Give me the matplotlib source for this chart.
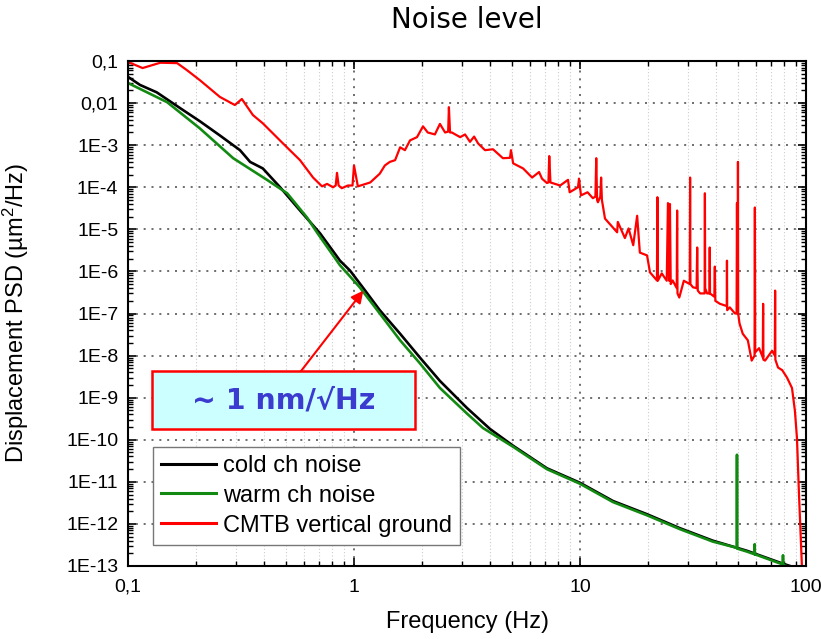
import matplotlib
matplotlib.use("Agg")
import matplotlib.pyplot as plt
from matplotlib.patches import Rectangle
from matplotlib.ticker import LogLocator, NullFormatter

# ---------------- data ----------------
cold_f = [0.1, 0.113, 0.134, 0.170, 0.208, 0.255, 0.313, 0.347, 0.395, 0.471, 0.577,
          0.708, 0.867, 0.96, 1.10, 1.30, 1.60, 1.96, 2.40, 3.16, 4.0, 5.06, 7.14, 10,
          14, 19.8, 27.7, 38.7, 54.8, 76.8, 90]
cold_v = [0.042, 0.027, 0.018, 0.0076, 0.0037, 0.0017, 7.6e-4, 4.0e-4, 2.8e-4, 1.0e-4,
          2.8e-5, 8e-6, 1.8e-6, 1.05e-6, 4.0e-7, 1.2e-7, 3.3e-8, 8.9e-9, 2.5e-9, 5.7e-10,
          1.8e-10, 7.2e-11, 2.1e-11, 9.5e-12, 3.5e-12, 1.7e-12, 7.9e-13, 4e-13, 2.3e-13,
          1.2e-13, 9e-14]

warm_f = [0.1, 0.149, 0.208, 0.292, 0.412, 0.506, 0.620, 0.685, 0.867, 1.06, 1.30, 1.60,
          1.96, 2.40, 3.16, 3.72, 5.06, 7.14, 10, 14, 19.8, 27.7, 38.7, 49.45, 49.5, 49.55,
          54.8, 59.2, 59.3, 59.4, 76.8, 79.0, 79.1, 79.2, 88]
warm_v = [0.030, 0.0105, 0.0025, 4.9e-4, 1.5e-4, 7.2e-5, 1.9e-5, 8.5e-6, 1.4e-6, 4.2e-7,
          1.0e-7, 2.3e-8, 6.5e-9, 1.7e-9, 4.2e-10, 1.9e-10, 6.8e-11, 2.0e-11, 9.0e-12,
          3.3e-12, 1.6e-12, 7.5e-13, 3.8e-13, 2.7e-13, 4.4e-11, 2.6e-13, 2.2e-13, 1.9e-13,
          3.3e-13, 1.9e-13, 1.15e-13, 1.1e-13, 1.8e-13, 1.05e-13, 9e-14]

ground_f = [0.100, 0.116, 0.139, 0.165, 0.182, 0.208, 0.255, 0.297, 0.319, 0.357, 0.395,
            0.485, 0.577, 0.659, 0.722, 0.760, 0.808, 0.83, 0.841, 0.855, 0.883, 0.94,
            0.985, 1.0, 1.04, 1.18, 1.30, 1.37, 1.44, 1.52, 1.60, 1.68, 1.77, 1.90, 2.02,
            2.12, 2.28, 2.40, 2.53, 2.61, 2.63, 2.66, 2.71, 2.95, 3.10, 3.26, 3.40, 3.54,
            3.80, 4.12, 4.56, 4.90, 4.95, 5.06, 5.60, 6.14, 6.59, 6.79, 7.14, 7.25, 7.31,
            7.4, 8.17, 8.85, 9.0, 9.8, 9.9, 10.1, 10.8, 11.4, 11.7, 11.8, 11.9, 12.0, 12.3,
            12.4, 12.5, 12.9, 14.6, 14.7, 15.8, 16.4, 17.2, 17.9, 18.4, 19.8, 20.4, 21.9,
            22.0, 22.1, 23.0, 24.2, 24.5, 24.8, 25.0, 25.2, 25.7, 26.8, 26.9, 27.0, 27.5,
            28.8, 30.6, 30.7, 30.8, 31.6, 32.8, 33.0, 33.2, 34.0, 35.6, 35.7, 35.8, 36.5,
            37.4, 37.5, 37.6, 39.3, 39.5, 39.7, 41.6, 44.6, 44.7, 44.8, 46.0, 48.5, 49.3,
            49.5, 49.7, 49.9, 50.0, 50.1, 50.8, 52.5, 55.3, 57.5, 59.2, 59.4, 59.6, 62.0,
            64.4, 64.6, 64.8, 65.9, 70.8, 72.8, 73.0, 73.2, 75.2, 78.5, 82.4, 86.7, 89.3,
            91.2, 93.1, 96.0]
ground_v = [0.095, 0.068, 0.091, 0.089, 0.061, 0.035, 0.014, 0.0090, 0.0125, 0.0052, 0.0033,
            0.0011, 4.4e-4, 1.7e-4, 1.05e-4, 1.2e-4, 1.0e-4, 1.1e-4, 2.2e-4, 1.1e-4, 9.5e-5,
            1.1e-4, 1.1e-4, 3.3e-4, 1.05e-4, 1.3e-4, 2.1e-4, 3.3e-4, 4.0e-4, 4.4e-4, 8.9e-4,
            7.6e-4, 1.3e-3, 1.55e-3, 2.8e-3, 2.0e-3, 1.8e-3, 3.2e-3, 2.0e-3, 2.1e-3, 8.0e-3,
            2.0e-3, 2.0e-3, 1.55e-3, 1.8e-3, 1.2e-3, 1.6e-3, 1.1e-3, 7.6e-4, 8.0e-4, 4.9e-4,
            5.0e-4, 7.6e-4, 3.7e-4, 2.8e-4, 1.7e-4, 2.3e-4, 1.6e-4, 1.26e-4, 1.3e-4, 5.5e-4,
            1.3e-4, 1.1e-4, 1.5e-4, 7.6e-5, 1.0e-4, 1.6e-4, 6.4e-5, 7.6e-5, 5.5e-5, 6e-5,
            4.9e-4, 5e-5, 4.4e-5, 6e-5, 1.7e-4, 5e-5, 1.8e-5, 8.5e-6, 1.5e-5, 6.2e-6, 1.05e-5,
            4.2e-6, 2.1e-5, 2.8e-6, 2.4e-6, 9.5e-7, 6.1e-7, 5.8e-5, 6e-7, 9e-7, 6e-7, 4.2e-5,
            6e-7, 4e-5, 5e-7, 6.1e-7, 4e-7, 2.8e-5, 3e-7, 2.4e-7, 6e-7, 5e-7, 1.7e-4, 5e-7,
            4.2e-7, 4e-7, 3.7e-6, 3.5e-7, 3.0e-7, 3e-7, 7.2e-5, 4e-7, 3e-7, 3e-7, 3.7e-6,
            3e-7, 2.5e-7, 1.3e-6, 2e-7, 1.7e-7, 1.5e-7, 1.8e-6, 1.2e-7, 1.4e-7, 1e-7, 1e-7,
            4.2e-5, 1e-7, 1e-7, 4.0e-4, 1e-7, 5.8e-8, 3.3e-8, 2.3e-8, 7.6e-9, 1e-8, 3.3e-5,
            1.2e-8, 1.5e-8, 9e-9, 1.7e-7, 8e-9, 7.6e-9, 1.3e-8, 1e-8, 3.5e-7, 8e-9, 5.2e-9,
            4.5e-9, 3.0e-9, 1.7e-9, 4.9e-10, 1.1e-10, 5.1e-12, 9e-14]

x_ticks = [0.1, 1, 10, 100]
x_tick_labels = ["0,1", "1", "10", "100"]
y_ticks = [1e-1, 1e-2, 1e-3, 1e-4, 1e-5, 1e-6, 1e-7, 1e-8, 1e-9, 1e-10, 1e-11, 1e-12, 1e-13]
y_tick_labels = ["0,1", "0,01", "1E-3", "1E-4", "1E-5", "1E-6", "1E-7", "1E-8", "1E-9",
                 "1E-10", "1E-11", "1E-12", "1E-13"]

series_labels = ["cold ch noise", "warm ch noise", "CMTB vertical ground"]
annot_text = "~ 1 nm/\u221aHz"
annot_tip = (1.10, 3.5e-7)
annot_tail = (0.577, 4.0e-9)

# ---------------- figure ----------------
plt.rcParams['font.family'] = ['Liberation Sans', 'DejaVu Sans']
plt.rcParams['mathtext.fontset'] = 'custom'
plt.rcParams['mathtext.rm'] = 'Liberation Sans'
plt.rcParams['mathtext.it'] = 'Liberation Sans:italic'

fig = plt.figure(figsize=(8.21, 6.39), dpi=100)
ax = fig.add_axes([128/821, 1-566/639, 678/821, 505/639])

ax.plot(cold_f, cold_v, color='black', lw=1.9, label=series_labels[0])
ax.plot(warm_f, warm_v, color='#128a12', lw=1.9, label=series_labels[1])
ax.plot(ground_f, ground_v, color='#ff0000', lw=1.6, label=series_labels[2])

ax.set_xscale('log')
ax.set_yscale('log')
ax.set_xlim(0.1, 100)
ax.set_ylim(1e-13, 0.1)

ax.set_xticks(x_ticks, x_tick_labels)
ax.set_yticks(y_ticks, y_tick_labels)
ax.xaxis.set_minor_locator(LogLocator(base=10, subs=range(2, 10), numticks=20))
ax.yaxis.set_minor_locator(LogLocator(base=10, subs=range(2, 10), numticks=30))
ax.xaxis.set_minor_formatter(NullFormatter())
ax.yaxis.set_minor_formatter(NullFormatter())

ax.tick_params(which='both', direction='in', top=True, right=True, labelsize=14)
ax.tick_params(which='major', length=6, width=1.2)
ax.tick_params(which='minor', length=3.5, width=1.0)
ax.tick_params(axis='x', pad=9)
ax.tick_params(axis='y', pad=7)
for s in ax.spines.values():
    s.set_linewidth(1.5)

ax.grid(True, which='major', linestyle=(0, (1.2, 3.5)), color='#555555', lw=1.2)
ax.grid(True, which='minor', axis='x', linestyle=(0, (1, 2)), color='#cccccc', lw=0.8)
ax.set_axisbelow(True)

ax.set_xlabel('Frequency (Hz)', fontsize=17)
ax.xaxis.set_label_coords(0.5, -0.09)
ax.set_ylabel('Displacement PSD (\u00b5m$^2$/Hz)', fontsize=17)
ax.yaxis.set_label_coords(-0.143, 0.5)

fig.text(467/821, 1-20/639, 'Noise level', ha='center', va='center', fontsize=20,
         family=['DejaVu Sans'])

leg = ax.legend(loc='lower left', bbox_to_anchor=(0.037, 0.042), borderaxespad=0,
                fontsize=17, handlelength=2.3, frameon=True, fancybox=False,
                edgecolor='#777777', framealpha=1, borderpad=0.35, labelspacing=0.33,
                handletextpad=0.3)
for ln in leg.get_lines():
    ln.set_linewidth(2.2)

# annotation box
box = Rectangle((0.035, 0.271), 0.388, 0.115, transform=ax.transAxes,
                facecolor='#ccffff', edgecolor='#ff0000', lw=1.8, zorder=5)
ax.add_patch(box)
ax.text(0.035 + 0.388/2, 0.271 + 0.115/2, annot_text, transform=ax.transAxes,
        ha='center', va='center', fontsize=20.5, fontweight='bold', color='#3b3bd0',
        family=['DejaVu Sans'], zorder=6)
ax.annotate('', xy=annot_tip, xytext=annot_tail,
            arrowprops=dict(arrowstyle='-|>', color='#ff0000', lw=1.5,
                            mutation_scale=18, shrinkA=0, shrinkB=0), zorder=4)

fig.savefig('out.png', dpi=100)
